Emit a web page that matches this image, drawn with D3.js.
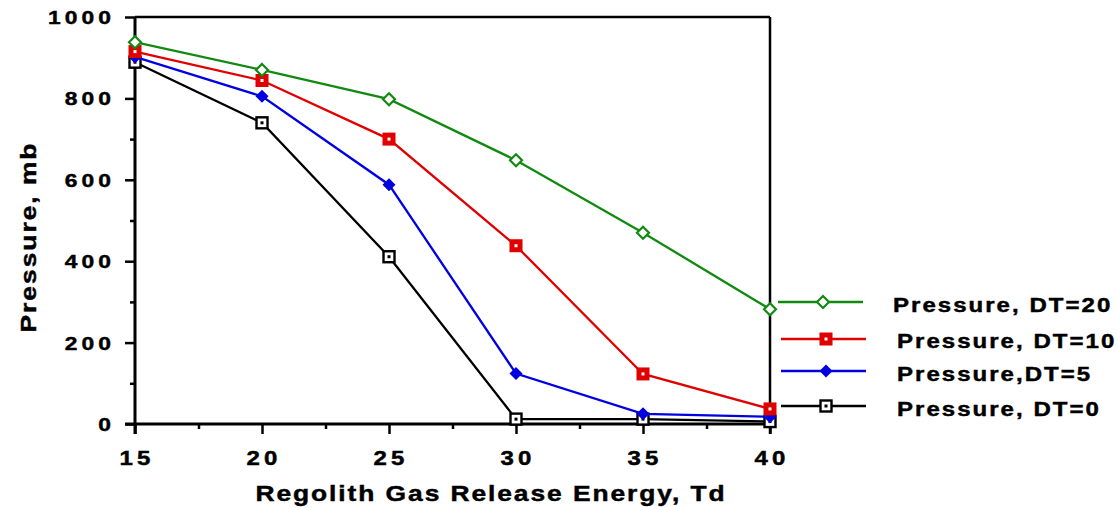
<!DOCTYPE html>
<html>
<head>
<meta charset="utf-8">
<script src="https://cdn.jsdelivr.net/npm/d3@7"></script>
<style>
  html, body { margin: 0; padding: 0; background: #fff; }
  svg { display: block; font-family: "Liberation Sans", Arial, sans-serif; font-weight: bold; }
  svg text { fill: #000; stroke: #000; stroke-width: 0.45; }
</style>
</head>
<body>
<svg id="chart" width="1118" height="508"></svg>
<script>
// ---- data ----
const energy = [15, 20, 25, 30, 35, 40];
const dt20 = [938, 870, 798, 648, 470, 282];
const dt10 = [915, 844, 700, 438, 123, 37];
const dt5  = [902, 805, 588, 124, 25, 18];
const dt0  = [889, 740, 411, 12, 12, 6];
const seriesNames = ["Pressure, DT=20", "Pressure, DT=10", "Pressure,DT=5", "Pressure, DT=0"];
const xTicks = [15, 20, 25, 30, 35, 40];
const yTicks = [0, 200, 400, 600, 800, 1000];
const xTitle = "Regolith Gas Release Energy, Td";
const yTitle = "Pressure, mb";

const series = [
  { name: seriesNames[0], values: dt20, color: "#108a10", marker: "openDiamond" },
  { name: seriesNames[1], values: dt10, color: "#e00000", marker: "filledSquare" },
  { name: seriesNames[2], values: dt5,  color: "#0000e0", marker: "filledDiamond" },
  { name: seriesNames[3], values: dt0,  color: "#000000", marker: "openSquare" }
];

const svg = d3.select("#chart");
const L = 135, R = 770, T = 17, B = 424;
const x = d3.scaleLinear().domain([15, 40]).range([L, R]);
const y = d3.scaleLinear().domain([0, 1000]).range([B, T]);
const SX = 1.2; // horizontal widening of the lettering

function label(px, py, str, size, spacing, anchor, rot) {
  const g = svg.append("g")
    .attr("transform", `translate(${px},${py}) rotate(${rot || 0}) scale(${SX},1)`);
  const dx = anchor === "middle" ? spacing / 2 : (anchor === "end" ? spacing : 0);
  return g.append("text").attr("x", 0).attr("y", 0).attr("dx", dx)
    .attr("text-anchor", anchor).attr("font-size", size)
    .attr("letter-spacing", spacing).text(str);
}

// frame: top and right borders
svg.append("line").attr("x1", L).attr("x2", R).attr("y1", T).attr("y2", T)
  .attr("stroke", "#000").attr("stroke-width", 2.5);
svg.append("line").attr("x1", R).attr("x2", R).attr("y1", T).attr("y2", B + 10)
  .attr("stroke", "#000").attr("stroke-width", 2.5);

// x axis
const xAxis = svg.append("g").attr("transform", `translate(0,${B})`)
  .call(d3.axisBottom(x).tickValues(d3.range(15, 40.01, 2.5)).tickSize(0).tickFormat(""));
xAxis.select(".domain").remove();
xAxis.append("line").attr("x1", L - 10).attr("x2", R).attr("y1", 0).attr("y2", 0)
  .attr("stroke", "#000").attr("stroke-width", 3);
xAxis.selectAll(".tick line").remove();
xAxis.selectAll(".tick").append("line")
  .attr("y1", 0).attr("y2", d => (d % 5 === 0 ? 10 : 5))
  .attr("stroke", "#000").attr("stroke-width", 2.5);
xTicks.forEach(d => label(x(d), 465, String(d), 20, 3.5, "middle"));

// y axis
const yAxis = svg.append("g").attr("transform", `translate(${L},0)`)
  .call(d3.axisLeft(y).tickValues(d3.range(0, 1001, 100)).tickSize(0).tickFormat(""));
yAxis.select(".domain").remove();
yAxis.append("line").attr("x1", 0).attr("x2", 0).attr("y1", T).attr("y2", B + 10)
  .attr("stroke", "#000").attr("stroke-width", 3);
yAxis.selectAll(".tick line").remove();
yAxis.selectAll(".tick").append("line")
  .attr("x1", 0).attr("x2", d => (d % 200 === 0 ? -10 : -5))
  .attr("stroke", "#000").attr("stroke-width", 2.5);
yTicks.forEach(d => label(111, y(d) + 7, String(d), 19, 3.4, "end"));

// titles
label(490, 501, xTitle, 22, 1.6, "middle");
label(36, 238, yTitle, 22, 1.65, "middle", -90);

// markers
function drawMarker(g, type, color, cx, cy) {
  if (type === "openDiamond") {
    g.append("path").attr("d", `M${cx},${cy - 6}L${cx + 6},${cy}L${cx},${cy + 6}L${cx - 6},${cy}Z`)
      .attr("fill", "#fff").attr("stroke", color).attr("stroke-width", 2.2);
  } else if (type === "filledDiamond") {
    g.append("path").attr("d", `M${cx},${cy - 6.5}L${cx + 6.5},${cy}L${cx},${cy + 6.5}L${cx - 6.5},${cy}Z`)
      .attr("fill", color).attr("stroke", "none");
  } else if (type === "filledSquare") {
    g.append("rect").attr("x", cx - 6.5).attr("y", cy - 6.5).attr("width", 13).attr("height", 13)
      .attr("fill", color);
    g.append("rect").attr("x", cx - 1.5).attr("y", cy - 1.5).attr("width", 3).attr("height", 3)
      .attr("fill", "#fff");
  } else if (type === "openSquare") {
    g.append("rect").attr("x", cx - 5.5).attr("y", cy - 5.5).attr("width", 11).attr("height", 11)
      .attr("fill", "#fff").attr("stroke", color).attr("stroke-width", 2.4);
    g.append("rect").attr("x", cx - 1.5).attr("y", cy - 1.5).attr("width", 3).attr("height", 3)
      .attr("fill", color);
  }
}

const line = d3.line().x((d, i) => x(energy[i])).y(d => y(d));
const drawOrder = [3, 2, 1, 0];
drawOrder.forEach(si => {
  const s = series[si];
  const g = svg.append("g");
  g.append("path").attr("d", line(s.values)).attr("fill", "none")
    .attr("stroke", s.color).attr("stroke-width", 2.3);
  s.values.forEach((v, i) => drawMarker(g, s.marker, s.color, x(energy[i]), y(v)));
});

// legend
const legendRows = [
  { ly: 302, x1: 778, x2: 863, mx: 823, tx: 893, ty: 312 },
  { ly: 339, x1: 781, x2: 866, mx: 826, tx: 897, ty: 348 },
  { ly: 371, x1: 781, x2: 866, mx: 826, tx: 897, ty: 381 },
  { ly: 406, x1: 781, x2: 866, mx: 826, tx: 897, ty: 416 }
];
series.forEach((s, i) => {
  const r = legendRows[i];
  const g = svg.append("g");
  g.append("line").attr("x1", r.x1).attr("x2", r.x2).attr("y1", r.ly).attr("y2", r.ly)
    .attr("stroke", s.color).attr("stroke-width", 2.3);
  drawMarker(g, s.marker, s.color, r.mx, r.ly);
  label(r.tx, r.ty, s.name, 20, 1.7, "start");
});
</script>
</body>
</html>
